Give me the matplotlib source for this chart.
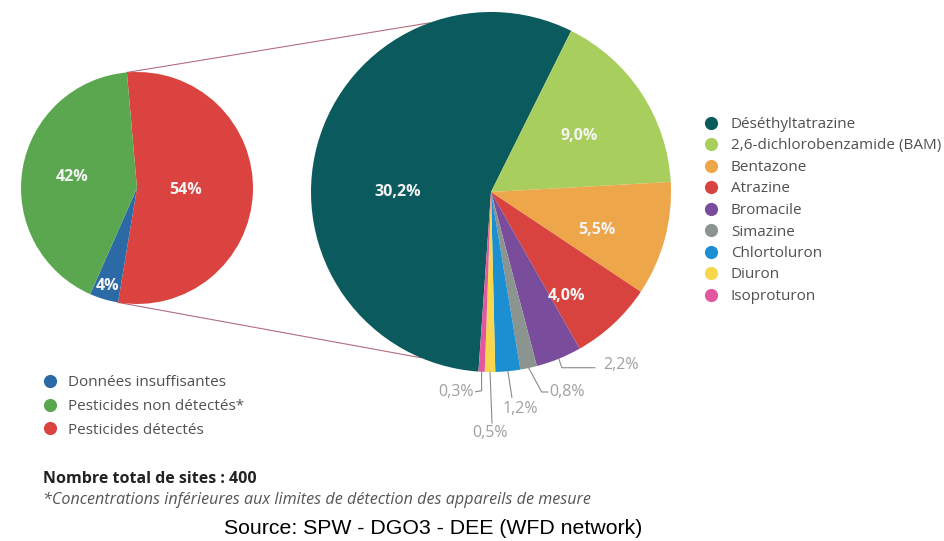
import matplotlib.pyplot as plt
import numpy as np

W, H = 945, 541

# small pie: all sites
site_labels = ["Données insuffisantes", "Pesticides non détectés*", "Pesticides détectés"]
site_pct = [4, 42, 54]
site_colors = ["#2c6aa6", "#5ba74f", "#da4340"]

# big pie: detected pesticides
pest_labels = ["Déséthyltatrazine", "2,6-dichlorobenzamide (BAM)", "Bentazone", "Atrazine",
               "Bromacile", "Simazine", "Chlortoluron", "Diuron", "Isoproturon"]
pest_pct = [30.2, 9.0, 5.5, 4.0, 2.2, 0.8, 1.2, 0.5, 0.3]
pest_colors = ["#0b5b5e", "#a8cf5e", "#eea64a", "#d9433f", "#7a4d9c",
               "#8c9490", "#1b8fd2", "#f7d74c", "#e2589f"]

FONT = "Open Sans"
SRC_FONT = "Liberation Sans"


def py(y):
    # pixel row -> data y
    return H - y


def fmt(v):
    return f"{v:.1f}".replace(".", ",") + "%"


fig = plt.figure(figsize=(W / 100, H / 100), dpi=100)
ax = fig.add_axes([0, 0, 1, 1])

# small pie (order clockwise from top: detected, insufficient, not detected)
sc = (137, py(188))
sr = 116
s_order = [2, 0, 1]
s_wedges, _ = ax.pie([site_pct[i] for i in s_order], colors=[site_colors[i] for i in s_order],
                     startangle=95, counterclock=False, center=sc, radius=sr,
                     wedgeprops=dict(linewidth=0))

# big pie
bc = (491, py(192))
br = 180
b_wedges, _ = ax.pie(pest_pct, colors=pest_colors, startangle=-94, counterclock=False,
                     center=bc, radius=br, wedgeprops=dict(linewidth=0))


def polar(c, r, ang):
    a = np.radians(ang)
    return c[0] + r * np.cos(a), c[1] + r * np.sin(a)


def mid(w):
    return (w.theta1 + w.theta2) / 2


# connector lines between the two pies
red = s_wedges[0]
for a_small, a_big in [(red.theta2, 110), (red.theta1, -113)]:
    x0, y0 = polar(sc, sr, a_small)
    x1, y1 = polar(bc, br, a_big)
    ax.plot([x0, x1], [y0, y1], color="#b46d7c", lw=0.8, zorder=0)

# labels in small pie
s_lab_r = [0.42, 0.88, 0.57]
for w, i, rr in zip(s_wedges, s_order, s_lab_r):
    x, y = polar(sc, sr * rr, mid(w))
    ax.text(x, y, f"{site_pct[i]}%", color="#f4f4f4", fontsize=11.5, fontweight="bold",
            ha="center", va="center", family=FONT)

# labels inside big pie (offsets in radius units)
in_pos = [(-0.52, 0.0), (0.49, 0.31), (0.59, -0.21), (0.42, -0.58)]
for k, (dx, dy) in enumerate(in_pos):
    ax.text(bc[0] + dx * br, bc[1] + dy * br, fmt(pest_pct[k]), color="#f4f4f4",
            fontsize=11.5, fontweight="bold", ha="center", va="center", family=FONT)

# labels outside big pie: leader offsets (px, relative to wedge edge), text offset, ha
out_lab = {
    4: ([(3, 9), (36, 9)], (44, 6), "left"),
    5: ([(13, 24), (19, 24)], (21, 24), "left"),
    6: ([(4, 26)], (12, 38), "center"),
    7: ([(2, 51)], (0, 61), "center"),
    8: ([(0, 19), (-6, 20)], (-8, 20), "right"),
}
for k, (pts, toff, ha) in out_lab.items():
    x0, y0 = polar(bc, br, mid(b_wedges[k]))
    xs = [x0] + [x0 + p[0] for p in pts]
    ys = [y0] + [y0 - p[1] for p in pts]
    ax.plot(xs, ys, color="#8a8a8a", lw=0.8)
    ax.text(x0 + toff[0], y0 - toff[1], fmt(pest_pct[k]), color="#a0a0a0", fontsize=11.5,
            ha=ha, va="center", family=FONT)

# legend: pesticides
for k, (lab, col) in enumerate(zip(pest_labels, pest_colors)):
    y = py(122.5 + k * 21.5)
    ax.scatter([711], [y], s=90, color=col, linewidths=0)
    ax.text(731, y, lab, color="#505050", fontsize=11, va="center_baseline", family=FONT)

# legend: sites
for k, (lab, col) in enumerate(zip(site_labels, site_colors)):
    y = py(381 + k * 23.5)
    ax.scatter([50], [y], s=90, color=col, linewidths=0)
    ax.text(68, y, lab, color="#505050", fontsize=11, va="center_baseline", family=FONT)

ax.text(43, py(477), "Nombre total de sites : 400", color="#222222", fontsize=11.5,
        fontweight="bold", va="center_baseline", family=FONT)
ax.text(43, py(498), "*Concentrations inférieures aux limites de détection des appareils de mesure",
        color="#555555", fontsize=11.6, style="italic", va="center_baseline", family=FONT)
ax.text(433, py(528), "Source: SPW - DGO3 - DEE (WFD network)", color="black", fontsize=15.3,
        ha="center", va="center", family=SRC_FONT)

ax.set_xlim(0, W)
ax.set_ylim(0, H)
ax.set_aspect("auto")
ax.axis("off")

fig.savefig("out.png", dpi=100)
